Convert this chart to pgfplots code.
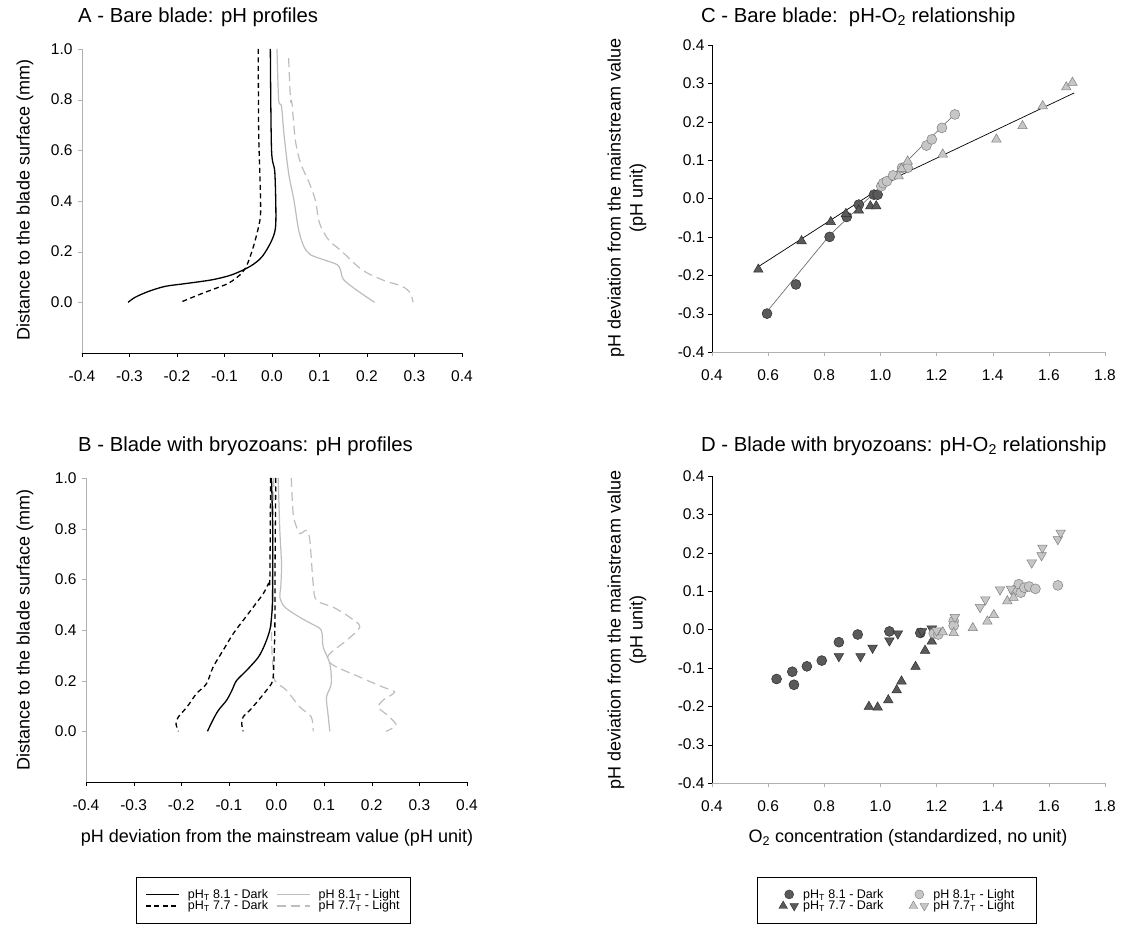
\documentclass[border=0pt]{standalone}
\usepackage{fontspec}
\setmainfont{Liberation Sans}
\usepackage{pgfplots}
\pgfplotsset{compat=1.18}

\definecolor{dkmark}{HTML}{5A5A5A}
\definecolor{dkedge}{HTML}{2E2E2E}
\definecolor{ltmark}{HTML}{C6C6C6}
\definecolor{ltedge}{HTML}{808080}
\definecolor{ltline}{HTML}{BDBDBD}
\definecolor{axgray}{HTML}{B0B0B0}
\definecolor{fitgray}{HTML}{6E6E6E}

\pgfplotsset{
  panel/.style={
    scale only axis,
    anchor=south west,
    axis lines=left,
    axis line style={-},
    tick align=outside,
    major tick length=4pt,
    tick label style={font=\fontsize{15.5}{17}\selectfont},
    xticklabel style={yshift=-10pt},
    /pgf/number format/assume math mode=true,
    /pgf/number format/fixed,
    /pgf/number format/fixed zerofill,
    /pgf/number format/precision=1,
    clip=false,
  },
  profile/.style={
    panel,
    width=380pt, height=304pt,
    xmin=-0.4, xmax=0.4, ymin=-0.2, ymax=1.0,
    xtick={-0.4,-0.3,-0.2,-0.1,0,0.1,0.2,0.3,0.4},
    ytick={0,0.2,0.4,0.6,0.8,1.0},
    yticklabel style={xshift=-2pt},
    x axis line style={black},
    y axis line style={axgray, line width=0.8pt},
    xtick style={black},
    ytick style={axgray},
  },
  relation/.style={
    panel,
    width=393pt, height=307pt,
    xmin=0.4, xmax=1.8, ymin=-0.4, ymax=0.4,
    xtick={0.4,0.6,0.8,1.0,1.2,1.4,1.6,1.8},
    ytick={-0.4,-0.3,-0.2,-0.1,0,0.1,0.2,0.3,0.4},
    x axis line style={axgray, line width=0.8pt},
    y axis line style={black},
    xtick style={axgray},
    ytick style={black},
  },
  legbox/.style={
    legend columns=2,
    legend cell align=left,
    legend style={anchor=north, draw=black, line width=0.4pt,
      font=\fontsize{12.5}{14}\selectfont, inner ysep=10pt, row sep=-3pt},
  },
  dsolid/.style={black, line width=1.3pt, smooth},
  ddash/.style={black, line width=1.3pt, smooth, dash pattern=on 5pt off 3.5pt},
  lsolid/.style={ltline, line width=1.2pt, smooth},
  ldash/.style={ltline, line width=1.2pt, smooth, dash pattern=on 9pt off 5pt},
  dkc/.style={only marks, mark=*, mark size=5pt, mark options={fill=dkmark, draw=dkedge, line width=0.5pt}},
  ltc/.style={only marks, mark=*, mark size=5pt, mark options={fill=ltmark, draw=ltedge, line width=0.5pt}},
  dku/.style={only marks, mark=triangle*, mark size=5.5pt, mark options={fill=dkmark, draw=dkedge, line width=0.5pt}},
  ltu/.style={only marks, mark=triangle*, mark size=5.5pt, mark options={fill=ltmark, draw=ltedge, line width=0.5pt}},
  dkd/.style={only marks, mark=triangle*, mark size=5.5pt, mark options={fill=dkmark, draw=dkedge, line width=0.5pt, rotate=180}},
  ltd/.style={only marks, mark=triangle*, mark size=5.5pt, mark options={fill=ltmark, draw=ltedge, line width=0.5pt, rotate=180}},
}

\newcommand{\ttl}{\fontsize{20.3}{24}\selectfont}
\newcommand{\lbl}{\fontsize{18}{22}\selectfont}

\begin{document}
\begin{tikzpicture}[x=1pt,y=1pt]
\useasboundingbox (0,0) rectangle (1130,932);

% ---------- A: bare blade profiles ----------
\begin{axis}[profile, at={(82pt,579pt)}]
\addplot[dsolid] coordinates {(-0.0035,1.0) (-0.001,0.603) (0.006,0.511) (0.008,0.313) (0.0,0.247) (-0.021,0.18) (-0.046,0.142) (-0.084,0.109) (-0.126,0.089) (-0.182,0.074) (-0.225,0.063) (-0.26,0.043) (-0.288,0.02) (-0.303,0.0)};
\addplot[ddash] coordinates {(-0.029,1.0) (-0.028,0.668) (-0.025,0.47) (-0.024,0.353) (-0.028,0.30) (-0.039,0.221) (-0.051,0.155) (-0.063,0.116) (-0.091,0.076) (-0.126,0.05) (-0.154,0.03) (-0.193,0.0)};
\addplot[lsolid] coordinates {(0.0105,1.0) (0.014,0.8) (0.02,0.774) (0.025,0.668) (0.035,0.51) (0.046,0.405) (0.056,0.287) (0.067,0.221) (0.081,0.188) (0.109,0.168) (0.137,0.149) (0.144,0.129) (0.151,0.089) (0.182,0.043) (0.216,0.0)};
\addplot[ldash] coordinates {(0.035,0.964) (0.039,0.80) (0.042,0.787) (0.049,0.642) (0.06,0.55) (0.077,0.478) (0.091,0.405) (0.1,0.313) (0.119,0.247) (0.147,0.201) (0.189,0.129) (0.232,0.089) (0.274,0.063) (0.291,0.037) (0.297,0.0)};
\end{axis}

% ---------- B: blade with bryozoans profiles ----------
\begin{axis}[profile, width=381pt, at={(86pt,150pt)}, legbox,
  legend style={at={(0.492,-0.3125)}, inner xsep=9pt,
    /tikz/every even column/.append style={column sep=6pt}},
  legend image code/.code={\path[draw=none] (0pt,0pt) -- (40pt,0pt); \draw[#1, sharp plot] (0pt,0pt) -- (33pt,0pt);}]
\addplot[lsolid, forget plot] coordinates {(0.0035,1.0) (0.007,0.793) (0.0105,0.662) (0.009,0.57) (0.007,0.53) (0.0175,0.49) (0.049,0.45) (0.073,0.425) (0.094,0.399) (0.098,0.333) (0.112,0.267) (0.115,0.188) (0.105,0.135) (0.108,0.07) (0.112,0.0)};
\addplot[ldash, forget plot] coordinates {(-0.0056,1.0) (-0.008,0.7) (-0.0105,0.399) (-0.008,0.267) (-0.0035,0.201) (0.021,0.162) (0.049,0.096) (0.073,0.057) (0.077,0.0)};
\addplot[ldash, forget plot] coordinates {(0.031,1.0) (0.035,0.859) (0.042,0.807) (0.049,0.78) (0.063,0.793) (0.07,0.754) (0.077,0.583) (0.084,0.517) (0.119,0.49) (0.154,0.45) (0.175,0.412) (0.147,0.359) (0.112,0.307) (0.108,0.28) (0.126,0.254) (0.175,0.214) (0.223,0.175) (0.248,0.155) (0.223,0.122) (0.213,0.096) (0.22,0.083) (0.237,0.057) (0.251,0.024) (0.23,0.0)};
\addplot[dsolid, forget plot] coordinates {(-0.0105,1.0) (-0.008,0.793) (-0.008,0.53) (-0.0105,0.45) (-0.014,0.40) (-0.024,0.345) (-0.038,0.293) (-0.063,0.24) (-0.084,0.2) (-0.094,0.16) (-0.105,0.122) (-0.122,0.083) (-0.134,0.043) (-0.145,0.0)};
\addplot[ddash, forget plot] coordinates {(-0.0125,1.0) (-0.014,0.596) (-0.017,0.583) (-0.028,0.543) (-0.049,0.49) (-0.07,0.438) (-0.091,0.385) (-0.112,0.32) (-0.133,0.254) (-0.147,0.188) (-0.168,0.149) (-0.188,0.096) (-0.206,0.057) (-0.211,0.03) (-0.206,0.0)};
\addplot[ddash, forget plot] coordinates {(-0.0015,1.0) (-0.003,0.662) (-0.0035,0.399) (-0.0056,0.267) (-0.007,0.214) (-0.0105,0.188) (-0.021,0.162) (-0.035,0.129) (-0.056,0.083) (-0.07,0.057) (-0.073,0.03) (-0.07,0.0)};
\addlegendimage{dsolid}
\addlegendentry{pH\textsubscript{T} 8.1 - Dark}
\addlegendimage{lsolid}
\addlegendentry{pH 8.1\textsubscript{T} - Light}
\addlegendimage{ddash}
\addlegendentry{pH\textsubscript{T} 7.7 - Dark}
\addlegendimage{ldash}
\addlegendentry{pH 7.7\textsubscript{T} - Light}
\end{axis}

% ---------- C: bare blade pH-O2 ----------
\begin{axis}[relation, at={(712pt,580pt)}]
\addplot[fitgray, line width=0.7pt] coordinates {(0.59,-0.30) (0.82,-0.095) (1.0,0.03) (1.265,0.22)};
\addplot[black, line width=0.7pt] coordinates {(0.56,-0.18) (1.07,0.06) (1.69,0.275)};
\addplot[dkc] coordinates {(0.596,-0.300) (0.699,-0.224) (0.819,-0.100) (0.880,-0.048) (0.923,-0.016) (0.977,0.010) (0.990,0.010)};
\addplot[dku] coordinates {(0.565,-0.185) (0.719,-0.111) (0.823,-0.061) (0.877,-0.040) (0.923,-0.031) (0.964,-0.020) (0.985,-0.020)};
\addplot[ltc] coordinates {(1.003,0.032) (1.010,0.040) (1.023,0.045) (1.045,0.060) (1.077,0.080) (1.097,0.080) (1.164,0.138) (1.183,0.154) (1.219,0.184) (1.265,0.219)};
\addplot[ltu] coordinates {(1.065,0.058) (1.075,0.077) (1.097,0.097) (1.222,0.115) (1.413,0.154) (1.506,0.189) (1.578,0.241) (1.662,0.290) (1.684,0.302)};
\end{axis}

% ---------- D: bryozoans pH-O2 ----------
\begin{axis}[relation, at={(712pt,149pt)}, legbox,
  legend style={at={(0.47,-0.306)}, inner xsep=20pt,
    /tikz/every even column/.append style={column sep=22pt}}]
\addplot[dkc, forget plot] coordinates {(0.630,-0.129) (0.686,-0.110) (0.692,-0.144) (0.738,-0.096) (0.791,-0.081) (0.852,-0.033) (0.919,-0.013) (1.032,-0.005) (1.142,-0.009)};
\addplot[dkd, forget plot] coordinates {(0.852,-0.070) (0.929,-0.070) (0.972,-0.048) (1.032,-0.029) (1.062,-0.011) (1.148,-0.005) (1.183,0.002)};
\addplot[dku, forget plot] coordinates {(0.959,-0.201) (0.990,-0.203) (1.028,-0.184) (1.058,-0.158) (1.075,-0.135) (1.125,-0.097) (1.159,-0.055) (1.183,-0.031)};
\addplot[ltc, forget plot] coordinates {(1.190,-0.010) (1.206,-0.013) (1.261,0.022) (1.261,0.010) (1.475,0.102) (1.493,0.118) (1.500,0.096) (1.513,0.109) (1.530,0.112) (1.552,0.106) (1.632,0.115)};
\addplot[ltd, forget plot] coordinates {(1.200,-0.003) (1.265,0.032) (1.355,0.058) (1.374,0.078) (1.426,0.104) (1.465,0.106) (1.539,0.174) (1.574,0.193) (1.577,0.213) (1.632,0.235) (1.642,0.252)};
\addplot[ltu, forget plot] coordinates {(1.222,-0.007) (1.261,-0.009) (1.329,0.004) (1.381,0.021) (1.404,0.038) (1.452,0.074) (1.474,0.083)};
\addlegendimage{legend image code/.code={\path[draw=none] (0pt,0pt) -- (24pt,0pt); \path[draw=none] plot[only marks, mark=*, mark size=4.5pt, mark options={draw=dkedge, fill=dkmark}] coordinates {(12pt,0pt)};}}
\addlegendentry{pH\textsubscript{T} 8.1 - Dark}
\addlegendimage{legend image code/.code={\path[draw=none] (0pt,0pt) -- (24pt,0pt); \path[draw=none] plot[only marks, mark=*, mark size=4.5pt, mark options={draw=ltedge, fill=ltmark}] coordinates {(12pt,0pt)};}}
\addlegendentry{pH 8.1\textsubscript{T} - Light}
\addlegendimage{legend image code/.code={\path[draw=none] (0pt,0pt) -- (24pt,0pt);
  \path[draw=none] plot[only marks, mark=triangle*, mark size=5pt, mark options={draw=dkedge, fill=dkmark}] coordinates {(6pt,0pt)};
  \path[draw=none] plot[only marks, mark=triangle*, mark size=5pt, mark options={draw=dkedge, fill=dkmark, rotate=180}] coordinates {(17pt,0pt)};}}
\addlegendentry{pH\textsubscript{T} 7.7 - Dark}
\addlegendimage{legend image code/.code={\path[draw=none] (0pt,0pt) -- (24pt,0pt);
  \path[draw=none] plot[only marks, mark=triangle*, mark size=5pt, mark options={draw=ltedge, fill=ltmark}] coordinates {(6pt,0pt)};
  \path[draw=none] plot[only marks, mark=triangle*, mark size=5pt, mark options={draw=ltedge, fill=ltmark, rotate=180}] coordinates {(17pt,0pt)};}}
\addlegendentry{pH 7.7\textsubscript{T} - Light}
\end{axis}

% ---------- titles and axis labels ----------
\node[anchor=west, font=\ttl, inner xsep=0pt] at (78,915) {A - Bare blade: pH profiles};
\node[anchor=west, font=\ttl, inner xsep=0pt] at (78,486) {B - Blade with bryozoans: pH profiles};
\node[anchor=west, font=\ttl, inner xsep=0pt] at (701,915) {C - Bare blade:\ \ pH-O\textsubscript{2} relationship};
\node[anchor=west, font=\ttl, inner xsep=0pt] at (701,486) {D - Blade with bryozoans: pH-O\textsubscript{2} relationship};

\node[rotate=90, font=\lbl] at (25,732) {Distance to the blade surface (mm)};
\node[rotate=90, font=\lbl] at (25,302) {Distance to the blade surface (mm)};
\node[rotate=90, font=\lbl, align=center] at (627,734) {pH deviation from the mainstream value\\(pH unit)};
\node[rotate=90, font=\lbl, align=center] at (627,302) {pH deviation from the mainstream value\\(pH unit)};

\node[font=\lbl] at (277,94) {pH deviation from the mainstream value (pH unit)};
\node[font=\lbl] at (908,94) {O\textsubscript{2} concentration (standardized, no unit)};
\end{tikzpicture}
\end{document}
